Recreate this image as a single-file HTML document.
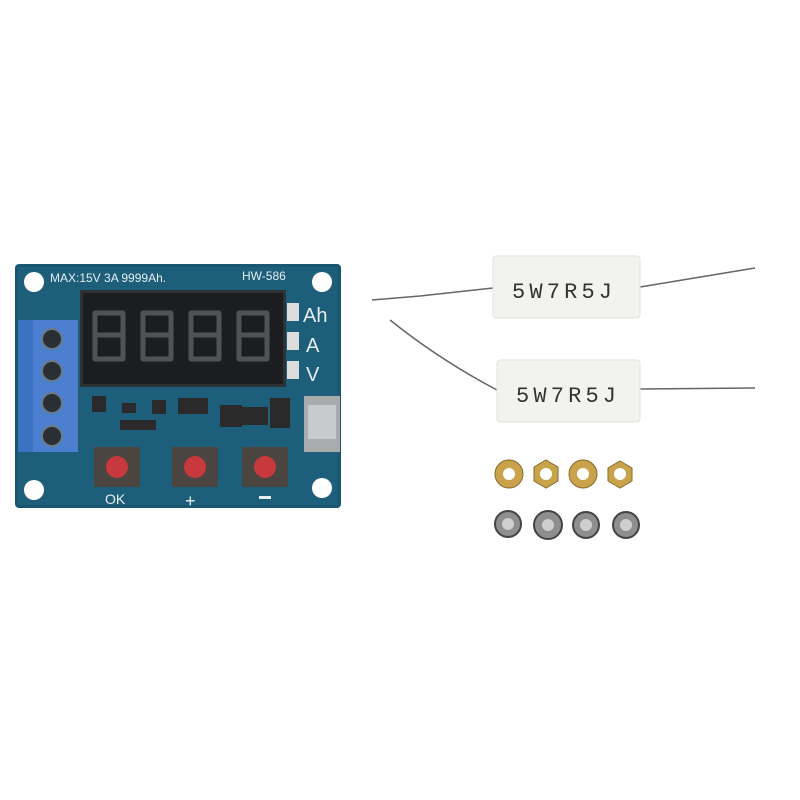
<!DOCTYPE html>
<html><head><meta charset="utf-8"><style>html,body{margin:0;padding:0;background:#fff}svg{display:block}</style></head>
<body>
<svg width="800" height="800" viewBox="0 0 800 800" xmlns="http://www.w3.org/2000/svg" font-family="Liberation Sans, sans-serif">
<rect width="800" height="800" fill="#fff"/>
<rect x="15" y="264" width="326" height="244" rx="4" fill="#1a5670"/>
<rect x="18" y="267" width="320" height="238" fill="#1d5f7b"/>
<circle cx="34" cy="282" r="10" fill="#fff"/><circle cx="322" cy="282" r="10" fill="#fff"/>
<circle cx="34" cy="490" r="10" fill="#fff"/><circle cx="322" cy="488" r="10" fill="#fff"/>
<text x="50" y="282" font-size="12" fill="#e6eef2">MAX:15V 3A 9999Ah.</text>
<text x="242" y="280" font-size="12" fill="#e6eef2">HW-586</text>
<rect x="80" y="290" width="206" height="97" fill="#2d3334"/>
<rect x="83" y="293" width="200" height="91" fill="#1b1d1e"/>
<g fill="none" stroke="#505354" stroke-width="5" stroke-linejoin="round">
<path d="M95 313h28v22h-28z M95 335v24h28v-24"/>
<path d="M143 313h28v22h-28z M143 335v24h28v-24"/>
<path d="M191 313h28v22h-28z M191 335v24h28v-24"/>
<path d="M239 313h28v22h-28z M239 335v24h28v-24"/>
</g>
<rect x="287" y="303" width="12" height="18" fill="#ddd"/><rect x="287" y="332" width="12" height="18" fill="#ddd"/><rect x="287" y="361" width="12" height="18" fill="#ddd"/>
<text x="303" y="322" font-size="20" fill="#e8eef0">Ah</text>
<text x="306" y="352" font-size="20" fill="#e8eef0">A</text>
<text x="306" y="381" font-size="20" fill="#e8eef0">V</text>
<rect x="18" y="320" width="60" height="132" fill="#3c72c2"/>
<rect x="33" y="320" width="45" height="132" fill="#4a80cf"/>
<g fill="#2a2f36" stroke="#6c7a88" stroke-width="2">
<circle cx="52" cy="339" r="10"/><circle cx="52" cy="371" r="10"/><circle cx="52" cy="403" r="10"/><circle cx="52" cy="436" r="10"/>
</g>
<g fill="#2a2a2a">
<rect x="92" y="396" width="14" height="16"/><rect x="122" y="403" width="14" height="10"/><rect x="152" y="400" width="14" height="14"/>
<rect x="178" y="398" width="30" height="16"/><rect x="220" y="405" width="22" height="22"/><rect x="240" y="407" width="28" height="18"/>
<rect x="270" y="398" width="20" height="30"/><rect x="120" y="420" width="36" height="10"/>
</g>
<rect x="304" y="396" width="36" height="56" fill="#a9abad"/>
<rect x="308" y="405" width="28" height="34" fill="#c8cacc"/>
<rect x="94" y="447" width="46" height="40" fill="#4a4540"/><circle cx="117" cy="467" r="11" fill="#c8393e"/>
<rect x="172" y="447" width="46" height="40" fill="#4a4540"/><circle cx="195" cy="467" r="11" fill="#c8393e"/>
<rect x="242" y="447" width="46" height="40" fill="#4a4540"/><circle cx="265" cy="467" r="11" fill="#c8393e"/>
<text x="105" y="504" font-size="14" fill="#e8eef0">OK</text>
<text x="185" y="507" font-size="18" fill="#e8eef0">+</text>
<rect x="259" y="496" width="12" height="3" fill="#e8eef0"/>
<path d="M372 300 L420 296 L493 288" stroke="#666" stroke-width="1.5" fill="none"/>
<path d="M640 287 L755 268" stroke="#666" stroke-width="1.5" fill="none"/>
<rect x="493" y="256" width="147" height="62" rx="3" fill="#f2f2ef" stroke="#e2e2de"/>
<text x="512" y="298" font-size="22" fill="#333" font-family="Liberation Mono, monospace" textLength="100">5W7R5J</text>
<path d="M390 320 Q440 360 497 390" stroke="#666" stroke-width="1.5" fill="none"/>
<path d="M640 389 L755 388" stroke="#666" stroke-width="1.5" fill="none"/>
<rect x="497" y="360" width="143" height="62" rx="3" fill="#f2f2ef" stroke="#e2e2de"/>
<text x="516" y="402" font-size="22" fill="#333" font-family="Liberation Mono, monospace" textLength="100">5W7R5J</text>
<g fill="#c9a24c" stroke="#8a6a2a" stroke-width="1">
<circle cx="509" cy="474" r="14"/><polygon points="546,460 558,467 558,481 546,488 534,481 534,467"/>
<circle cx="583" cy="474" r="14"/><polygon points="620,461 632,468 632,481 620,488 608,481 608,468"/>
</g>
<g fill="#fff"><circle cx="509" cy="474" r="6"/><circle cx="546" cy="474" r="6"/><circle cx="583" cy="474" r="6"/><circle cx="620" cy="474" r="6"/></g>
<g fill="#8e8e8e" stroke="#444" stroke-width="2">
<circle cx="508" cy="524" r="13"/><circle cx="548" cy="525" r="14"/><circle cx="586" cy="525" r="13"/><circle cx="626" cy="525" r="13"/>
</g>
<g fill="#cfcfcf"><circle cx="508" cy="524" r="6"/><circle cx="548" cy="525" r="6"/><circle cx="586" cy="525" r="6"/><circle cx="626" cy="525" r="6"/></g>
</svg>
</body></html>
